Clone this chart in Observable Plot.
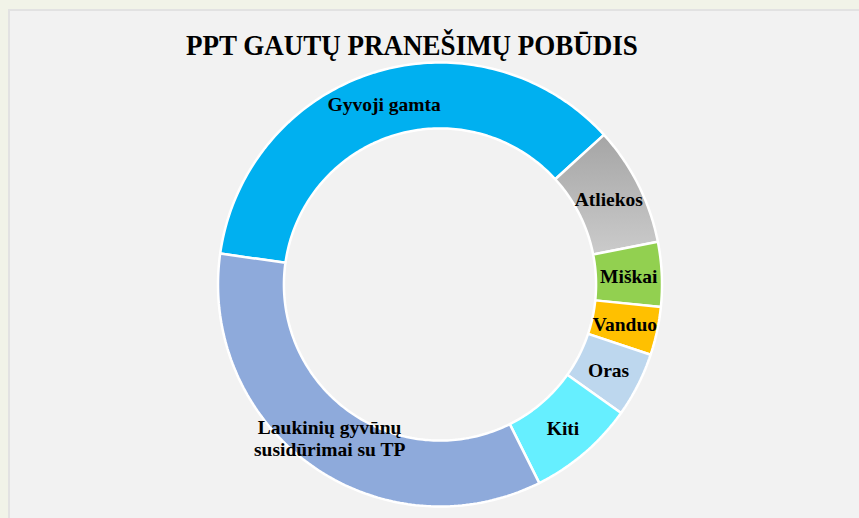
<!DOCTYPE html>
<html><head><meta charset="utf-8">
<script src="https://cdn.jsdelivr.net/npm/d3@7"></script>
<script src="https://cdn.jsdelivr.net/npm/@observablehq/plot@0.6"></script>
<style>
html,body{margin:0;padding:0;background:#f1f3e8;width:859px;height:518px;overflow:hidden;}
#panel{position:absolute;left:8px;top:9px;width:880px;height:540px;background:#f2f2f2;border-left:2px solid #e2e2e2;border-top:2px solid #e2e2e2;}
#title{position:absolute;left:412px;top:30px;transform:translateX(-50%) scaleX(0.9);white-space:nowrap;font:bold 30px "Liberation Serif",serif;line-height:1;color:#000;}
#chart{position:absolute;left:0;top:60px;}
</style></head><body>
<div id="panel"></div>
<div id="title">PPT GAUTŲ PRANEŠIMŲ POBŪDIS</div>
<div id="chart"></div>
<script>
const categories = ["Gyvoji gamta", "Atliekos", "Miškai", "Vanduo", "Oras", "Kiti", "Laukinių gyvūnų susidūrimai su TP"];
const values = [36.0, 8.7, 4.7, 3.5, 4.7, 7.8, 34.6];
const labels = ["Gyvoji gamta", "Atliekos", "Miškai", "Vanduo", "Oras", "Kiti", "Laukinių gyvūnų\nsusidūrimai su TP"];
const colors = ["#00b0f0", "url(#atl)", "#92d050", "#ffc000", "#bdd7ee", "#66efff", "#8eaadb"];

const startAngle = 278; // degrees clockwise from top
const innerRatio = 0.703;
const total = d3.sum(values);

const pts = [];
const lbls = [];
let acc = 0;
categories.forEach((cat, i) => {
  const a0 = startAngle + acc / total * 360;
  const a1 = a0 + values[i] / total * 360;
  acc += values[i];
  const n = Math.max(2, Math.ceil(a1 - a0));
  const ring = [];
  for (let k = 0; k <= n; k++) {
    const a = (a0 + (a1 - a0) * k / n) * Math.PI / 180;
    ring.push({cat, x: Math.sin(a), y: Math.cos(a)});
  }
  for (let k = n; k >= 0; k--) {
    const a = (a0 + (a1 - a0) * k / n) * Math.PI / 180;
    ring.push({cat, x: innerRatio * Math.sin(a), y: innerRatio * Math.cos(a)});
  }
  ring.push({...ring[0]});
  pts.push(...ring);
  const am = (a0 + a1) / 2 * Math.PI / 180;
  const rm = (1 + innerRatio) / 2;
  lbls.push({label: labels[i], x: rm * Math.sin(am), y: rm * Math.cos(am)});
});

const cx = 439.5, cy = 224, R = 222;
const chart = Plot.plot({
  width: 859,
  height: 458,
  margin: 0,
  x: {type: "linear", domain: [-1, 1], range: [cx - R, cx + R], axis: null},
  y: {type: "linear", domain: [-1, 1], range: [cy + R, cy - R], axis: null},
  color: {type: "ordinal", domain: categories, range: colors},
  style: {background: "transparent", overflow: "visible"},
  marks: [
    Plot.line(pts, {x: "x", y: "y", z: "cat", fill: "cat", stroke: "white", strokeWidth: 2.5, curve: "linear", strokeLinejoin: "miter"}),
    Plot.text(lbls, {x: "x", y: "y", text: "label", fontFamily: "Liberation Serif", fontWeight: "bold", fontSize: 19.5, fill: "black", lineHeight: 1.12})
  ]
});
const defs = d3.select(chart).insert("defs", ":first-child");
const g = defs.append("linearGradient").attr("id", "atl").attr("x1", 0).attr("y1", 0).attr("x2", 0).attr("y2", 1);
g.append("stop").attr("offset", "0%").attr("stop-color", "#a5a5a5");
g.append("stop").attr("offset", "100%").attr("stop-color", "#cbcbcb");
document.getElementById("chart").appendChild(chart);
</script>
</body></html>
